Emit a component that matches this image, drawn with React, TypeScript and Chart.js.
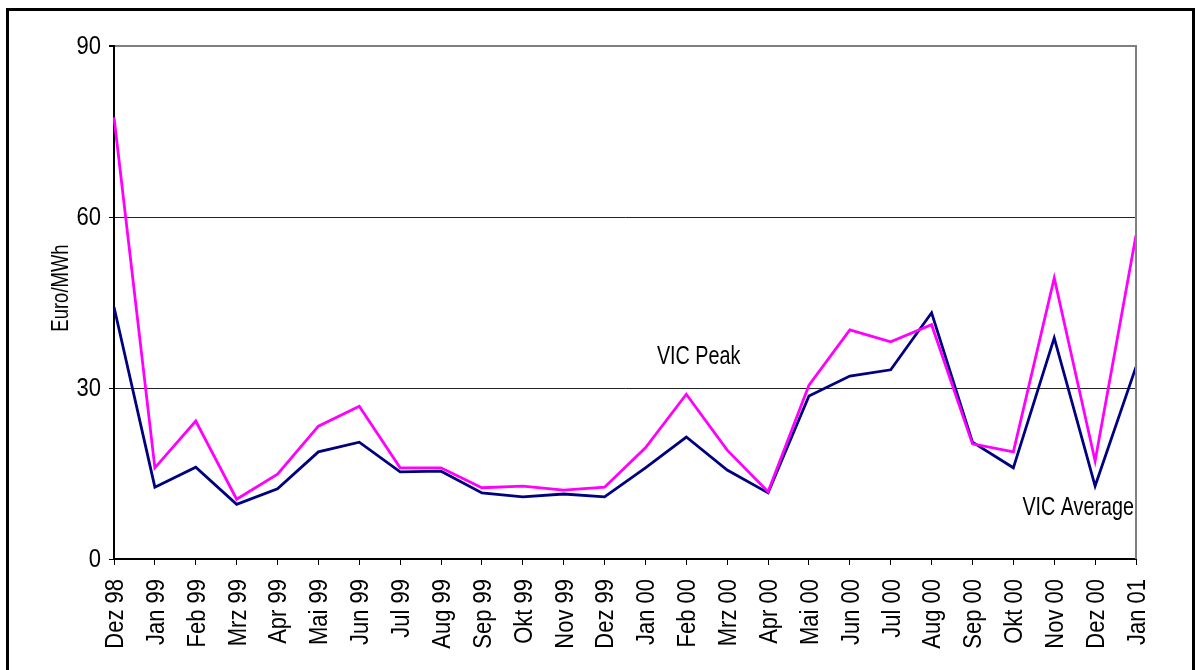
import React, { useEffect, useRef } from "react";
import { Chart, registerables } from "chart.js";

Chart.register(...registerables);

const categories = [
  "Dez 98", "Jan 99", "Feb 99", "Mrz 99", "Apr 99", "Mai 99", "Jun 99", "Jul 99", "Aug 99",
  "Sep 99", "Okt 99", "Nov 99", "Dez 99", "Jan 00", "Feb 00", "Mrz 00", "Apr 00", "Mai 00",
  "Jun 00", "Jul 00", "Aug 00", "Sep 00", "Okt 00", "Nov 00", "Dez 00", "Jan 01",
];

const vicPeak = [
  77.5, 16.0, 24.2, 10.5, 14.9, 23.3, 26.8, 16.0, 16.0, 12.5, 12.8, 12.1, 12.6,
  19.5, 28.9, 19.1, 11.8, 30.5, 40.2, 38.1, 41.1, 20.2, 18.8, 49.3, 17.2, 56.8,
];

const vicAverage = [
  44.2, 12.6, 16.1, 9.6, 12.3, 18.8, 20.5, 15.3, 15.4, 11.6, 10.9, 11.4, 10.9,
  16.0, 21.4, 15.6, 11.6, 28.6, 32.1, 33.2, 43.2, 20.5, 16.0, 38.8, 12.8, 33.7,
];

const yTicks = [0, 30, 60, 90];
const yTitle = "Euro/MWh";
const peakLabel = "VIC Peak";
const avgLabel = "VIC Average";

const FONT = "'Liberation Sans', Arial, sans-serif";

function drawText(
  ctx: CanvasRenderingContext2D,
  text: string,
  x: number,
  y: number,
  opts: { size: number; sx: number; align: CanvasTextAlign; rotate?: number }
) {
  ctx.save();
  ctx.translate(x, y);
  if (opts.rotate) ctx.rotate(opts.rotate);
  ctx.scale(opts.sx, 1);
  ctx.font = `${opts.size}px ${FONT}`;
  ctx.fillStyle = "#000";
  ctx.textAlign = opts.align;
  ctx.textBaseline = "middle";
  ctx.fillText(text, 0, 0);
  ctx.restore();
}

export default function App() {
  const ref = useRef<HTMLCanvasElement | null>(null);

  useEffect(() => {
    if (!ref.current) return;
    const overlay = {
      id: "overlay",
      afterDraw(chart: any) {
        const { ctx, chartArea, scales } = chart;
        ctx.save();
        ctx.strokeStyle = "#808080";
        ctx.lineWidth = 2;
        ctx.beginPath();
        ctx.moveTo(chartArea.right, chartArea.top - 1);
        ctx.lineTo(chartArea.right, chartArea.bottom);
        ctx.stroke();
        ctx.restore();

        yTicks.forEach((v) => {
          drawText(ctx, String(v), chartArea.left - 13, scales.y.getPixelForValue(v) + 1, {
            size: 25,
            sx: 0.88,
            align: "right",
          });
        });
        categories.forEach((c, i) => {
          drawText(ctx, c, scales.x.getPixelForValue(i) + 2, chartArea.bottom + 20, {
            size: 25,
            sx: 0.88,
            align: "right",
            rotate: -Math.PI / 2,
          });
        });
        drawText(ctx, yTitle, 61, 288, { size: 24, sx: 0.77, align: "center", rotate: -Math.PI / 2 });
        drawText(ctx, peakLabel, scales.x.getPixelForValue(13.28), scales.y.getPixelForValue(35.4), {
          size: 25,
          sx: 0.79,
          align: "left",
        });
        drawText(ctx, avgLabel, scales.x.getPixelForValue(25) - 2, scales.y.getPixelForValue(8.9), {
          size: 25,
          sx: 0.79,
          align: "right",
        });
      },
    };

    const chart = new Chart(ref.current, {
      type: "line",
      data: {
        labels: categories,
        datasets: [
          {
            label: peakLabel,
            data: vicPeak,
            borderColor: "#FF00FF",
            backgroundColor: "#FF00FF",
            borderWidth: 2.8,
            pointRadius: 0,
            tension: 0,
            order: 1,
          },
          {
            label: avgLabel,
            data: vicAverage,
            borderColor: "#000080",
            backgroundColor: "#000080",
            borderWidth: 2.8,
            pointRadius: 0,
            tension: 0,
            order: 2,
          },
        ],
      },
      options: {
        animation: false,
        responsive: false,
        maintainAspectRatio: false,
        layout: { padding: { top: 46, right: 59, left: 0, bottom: 0 } },
        plugins: { legend: { display: false }, tooltip: { enabled: false } },
        scales: {
          x: {
            type: "category",
            offset: false,
            afterFit(scale: any) {
              scale.height = 111;
            },
            grid: {
              drawOnChartArea: false,
              drawTicks: true,
              tickLength: 6,
              color: "#000",
              lineWidth: 1,
            },
            border: { display: true, color: "#000", width: 2 },
            ticks: { display: false, autoSkip: false },
          },
          y: {
            min: 0,
            max: 90,
            afterFit(scale: any) {
              scale.width = 114;
            },
            afterBuildTicks(scale: any) {
              scale.ticks = yTicks.map((v) => ({ value: v }));
            },
            grid: {
              drawTicks: true,
              tickLength: 5,
              tickColor: "#000",
              color: (c: any) => (c.tick && c.tick.value === 90 ? "#808080" : "#222"),
              lineWidth: (c: any) => (c.tick && c.tick.value === 90 ? 2 : 1),
            },
            border: { display: true, color: "#000", width: 2 },
            ticks: { display: false },
          },
        },
      },
      plugins: [overlay],
    });
    return () => chart.destroy();
  }, []);

  return (
    <div style={{ position: "fixed", left: 0, top: 0, width: 1195, height: 670, overflow: "hidden", background: "#fff" }}>
      <div
        style={{
          position: "absolute",
          left: 6,
          top: 8,
          width: 1189,
          height: 700,
          border: "3px solid #000",
          boxSizing: "border-box",
        }}
      />
      <canvas ref={ref} width={1195} height={670} style={{ position: "absolute", left: 0, top: 0, width: 1195, height: 670 }} />
    </div>
  );
}
